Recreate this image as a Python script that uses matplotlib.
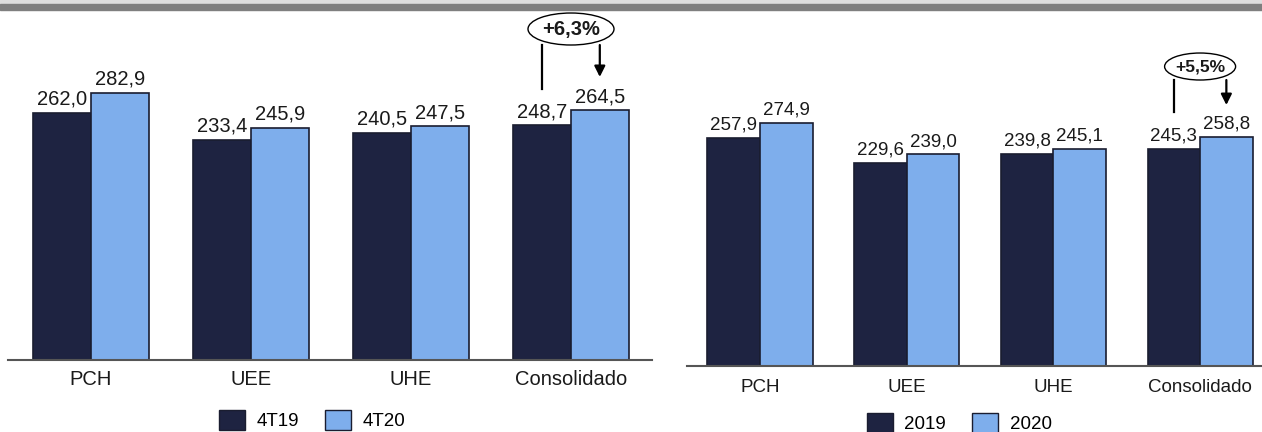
import matplotlib
matplotlib.use("Agg")
import matplotlib.pyplot as plt
from matplotlib.patches import Ellipse, Patch, Rectangle

plt.rcParams['font.family'] = ['Liberation Sans', 'DejaVu Sans']

# dados
categorias = ['PCH', 'UEE', 'UHE', 'Consolidado']
tri_4t19 = [262.0, 233.4, 240.5, 248.7]
tri_4t20 = [282.9, 245.9, 247.5, 264.5]
ano_2019 = [257.9, 229.6, 239.8, 245.3]
ano_2020 = [274.9, 239.0, 245.1, 258.8]
leg_tri = ['4T19', '4T20']
leg_ano = ['2019', '2020']
var_tri = '+6,3%'
var_ano = '+5,5%'

ESCURO = '#1e2341'
CLARO = '#7eaeec'
BORDA = '#1a1d30'
TEXTO = '#1a1a1a'

W, H = 1262, 432
fig = plt.figure(figsize=(W / 100, H / 100), dpi=100)

# faixa cinza no topo
fig.patches.append(Rectangle((0, 1 - 4 / H), 1, 4 / H, transform=fig.transFigure,
                             color='#dedede', zorder=0))
fig.patches.append(Rectangle((0, 1 - 10 / H), 1, 6 / H, transform=fig.transFigure,
                             color='#7f7f7f', zorder=0))


def fmt(v):
    return f'{v:.1f}'.replace('.', ',')


def grafico(ax, a, b, largura, fs, var, elipse, yel, dl, da, fs_var, pad):
    x = list(range(len(categorias)))
    xa = [i - largura / 2 for i in x]
    xb = [i + largura / 2 for i in x]
    ax.bar(xa, a, largura, color=ESCURO, edgecolor=BORDA, linewidth=1.2, zorder=2)
    ax.bar(xb, b, largura, color=CLARO, edgecolor=BORDA, linewidth=1.2, zorder=2)
    for xi, v in zip(xa, a):
        ax.annotate(fmt(v), (xi, v), xytext=(0, 3), textcoords='offset points',
                    ha='center', va='bottom', fontsize=fs, color=TEXTO)
    for xi, v in zip(xb, b):
        ax.annotate(fmt(v), (xi, v), xytext=(0, 3), textcoords='offset points',
                    ha='center', va='bottom', fontsize=fs, color=TEXTO)

    ax.set_xticks(x)
    ax.set_xticklabels(categorias, fontsize=fs, color=TEXTO)
    ax.tick_params(axis='x', length=0, pad=pad)
    ax.set_yticks([])
    for s in ['top', 'left', 'right']:
        ax.spines[s].set_visible(False)
    ax.spines['bottom'].set_color('#555555')
    ax.spines['bottom'].set_linewidth(1.5)

    # variação do consolidado
    i = len(categorias) - 1
    ew, eh = elipse
    ax.add_patch(Ellipse((i, yel), ew, eh, facecolor='white', edgecolor='black',
                         linewidth=1.0, zorder=3))
    ax.text(i, yel, var, ha='center', va='center', fontsize=fs_var,
            fontweight='bold', color=TEXTO, zorder=4)
    topo = yel - eh / 2
    ax.plot([xa[i], xa[i]], [topo, a[i] + dl], color='black', lw=1.6, zorder=3)
    ax.annotate('', xy=(xb[i], b[i] + da), xytext=(xb[i], topo),
                arrowprops=dict(arrowstyle='-|>', color='black', lw=1.6,
                                mutation_scale=16, shrinkA=0, shrinkB=0), zorder=3)


# trimestre
ax1 = fig.add_axes([8 / W, (H - 360) / H, (652 - 8) / W, 350 / H])
ax1.set_xlim((8 - 91) / 160, (652 - 91) / 160)
ax1.set_ylim(0, 350 / 0.9438)
grafico(ax1, tri_4t19, tri_4t20, 0.36, 14.5, var_tri, (0.5375, 33.9), 350.7,
        38.4, 35.4, 14.5, 7)

# ano
ax2 = fig.add_axes([687 / W, (H - 366) / H, (W - 687) / W, 356 / H])
ax2.set_xlim((687 - 760) / 146.7, (W - 760) / 146.7)
ax2.set_ylim(0, 356 / 0.885)
grafico(ax2, ano_2019, ano_2020, 0.358, 13.5, var_ano, (0.484, 30.5), 338.4,
        41.7, 36.1, 12.5, 9)

for nomes, cx, cy in [(leg_tri, 312, 420), (leg_ano, 959, 423)]:
    handles = [Patch(facecolor=ESCURO, edgecolor=BORDA),
               Patch(facecolor=CLARO, edgecolor=BORDA)]
    fig.legend(handles, nomes, loc='center', bbox_to_anchor=(cx / W, 1 - cy / H),
               ncol=2, frameon=False, fontsize=13.5, handlelength=1.4,
               handleheight=1.3, handletextpad=0.6, columnspacing=1.4,
               borderaxespad=0, borderpad=0)

fig.savefig('out.png', dpi=100)
